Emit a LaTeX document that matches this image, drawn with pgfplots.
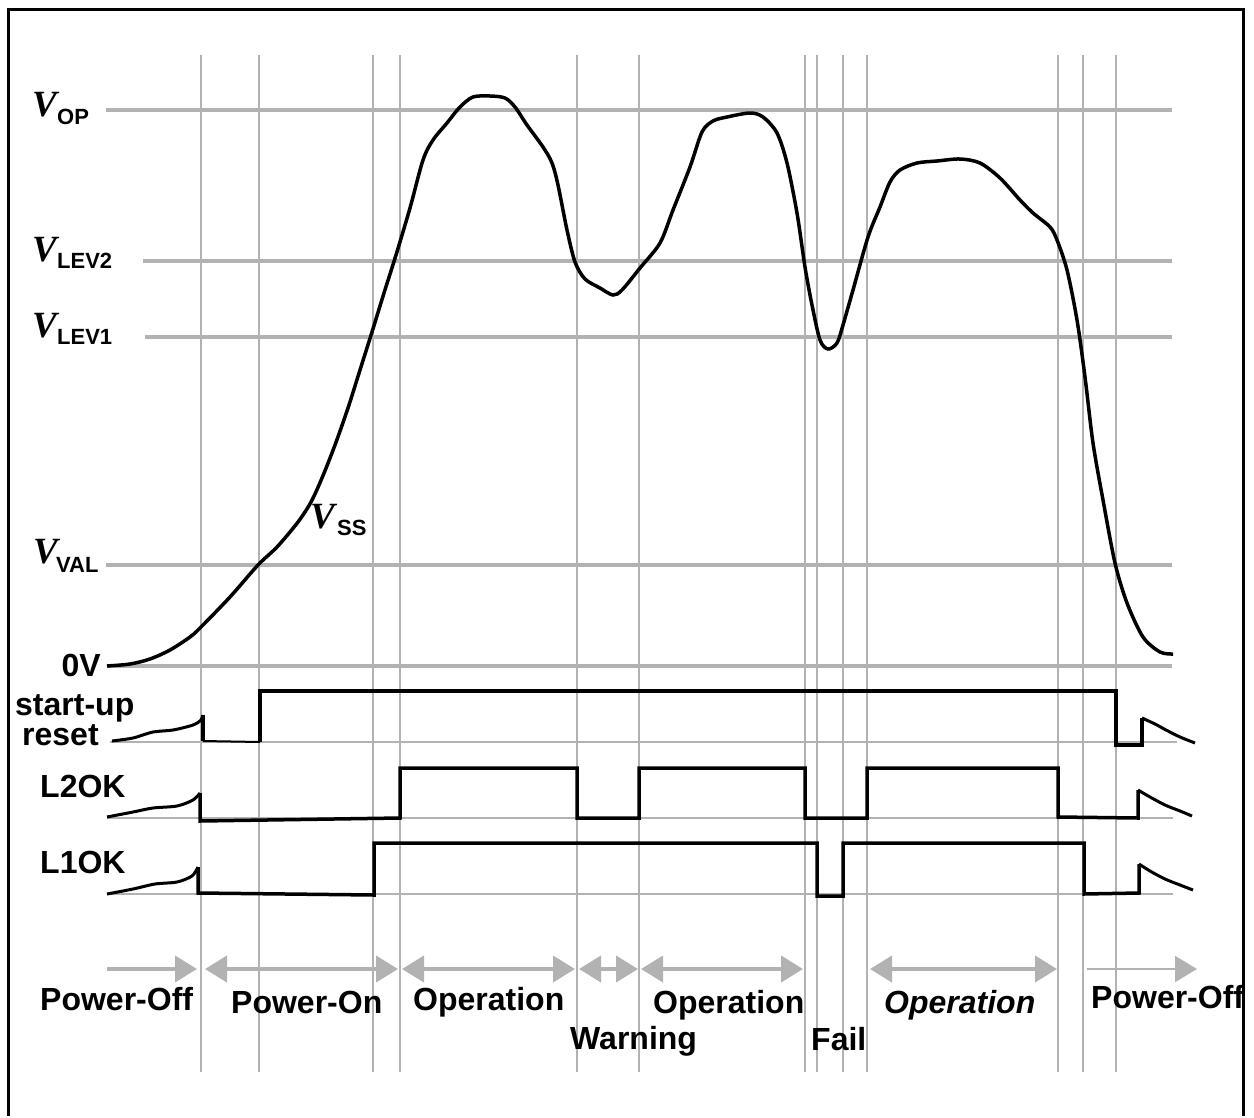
\documentclass[border=0pt]{standalone}
\usepackage{fontspec}
\setmainfont{Liberation Sans}
\newfontfamily\serifbi{Liberation Serif}
\usepackage{pgfplots}
\pgfplotsset{compat=1.18}
\usetikzlibrary{arrows.meta}
\definecolor{lg}{RGB}{178,178,178}
\newcommand{\lab}{\fontsize{32}{36}\selectfont\bfseries}
\newcommand{\Vf}{\serifbi\fontsize{37}{40}\selectfont\bfseries\itshape}
\newcommand{\Sf}{\fontsize{22}{25}\selectfont\bfseries}
\tikzset{ar/.style={>={Triangle[length=22pt,width=26pt]}}}
\begin{document}
\begin{tikzpicture}
\begin{axis}[
  width=1254pt, height=1116pt, scale only axis,
  xmin=0, xmax=1254, ymin=0, ymax=1116, y dir=reverse,
  hide axis, clip=false,
]
\path (axis cs:0,0) rectangle (axis cs:1254,1116);
% frame
\addplot[black, line width=3pt, mark=none] coordinates {(8,1116) (8,9) (1243,9) (1243,1116)};
% vertical grid lines
\pgfplotsinvokeforeach{201,259,373,400,577,639,805,817,843,867,1058,1083,1116}{
  \addplot[lg, line width=2pt, mark=none] coordinates {(#1,55) (#1,1072)};
}
% level lines
\addplot[lg, line width=3.5pt, mark=none] coordinates {(106,110) (1172,110)};
\addplot[lg, line width=3.5pt, mark=none] coordinates {(143,261) (1172,261)};
\addplot[lg, line width=3.5pt, mark=none] coordinates {(145,337) (1172,337)};
\addplot[lg, line width=3.5pt, mark=none] coordinates {(106,565) (1172,565)};
\addplot[lg, line width=3.5pt, mark=none] coordinates {(107,666) (1172,666)};
% signal baselines
\addplot[lg, line width=2pt, mark=none] coordinates {(110,742) (1177,742)};
\addplot[lg, line width=2pt, mark=none] coordinates {(107,818) (1173,818)};
\addplot[lg, line width=2pt, mark=none] coordinates {(107,894) (1173,894)};
% V_SS curve
\addplot[black, line width=3.5pt, mark=none, smooth, tension=0.5] coordinates {
(107,666) (130,664) (150,659) (170,650) (190,637) (201,627) (230,597) (258,565) (277,547) (298,522) (311,502) (322,478) (335,445) (348,408) (360,370) (372,332) (384,293) (396,255) (410,208) (423,160) (433,140) (447,123) (460,107) (473,97) (490,96) (505,98) (515,107) (527,125) (543,147) (552,163) (558,185) (567,230) (575,262) (585,279) (600,288) (613,295) (622,290) (640,268) (660,243) (673,210) (690,167) (702,132) (713,121) (727,117) (750,113) (763,117) (777,133) (787,163) (797,213) (805,267) (812,305) (820,340) (828,349) (837,343) (843,325) (853,290) (868,237) (880,207) (890,182) (900,170) (917,163) (937,161) (960,159) (980,163) (1000,178) (1020,200) (1033,213) (1050,227) (1057,240) (1067,270) (1077,320) (1085,377) (1093,443) (1103,500) (1115,563) (1127,603) (1143,637) (1160,652) (1173,654)
};
% start-up reset
\addplot[black, line width=3pt, mark=none, smooth, tension=0.5] coordinates {(112,741) (133,738) (153,732) (173,730) (193,725) (201,720) (203,715)};
\addplot[black, line width=3.5pt, mark=none] coordinates {(203,715) (203,741)};
\addplot[black, line width=2pt, mark=none] coordinates {(203,741) (260,742)};
\addplot[black, line width=3.5pt, mark=none] coordinates {(260,742) (260,691) (1116,691) (1116,745) (1142,745) (1142,718)};
\addplot[black, line width=3pt, mark=none, smooth, tension=0.5] coordinates {(1142,718) (1155,724) (1166,730) (1180,737) (1195,743)};
% L2OK
\addplot[black, line width=3pt, mark=none, smooth, tension=0.5] coordinates {(107,817) (133,812) (153,808) (177,806) (193,800) (200,793)};
\addplot[black, line width=3.5pt, mark=none] coordinates {(200,793) (200,821) (400,818) (400,768) (577,768) (577,818) (639,818) (639,768) (805,768) (805,818) (867,818) (867,768) (1058,768) (1058,817) (1138,818) (1138,790)};
\addplot[black, line width=3pt, mark=none, smooth, tension=0.5] coordinates {(1138,790) (1150,797) (1165,805) (1180,811) (1192,816)};
% L1OK
\addplot[black, line width=3pt, mark=none, smooth, tension=0.5] coordinates {(107,894) (133,889) (155,884) (177,882) (192,876) (198,867)};
\addplot[black, line width=3.5pt, mark=none] coordinates {(198,867) (198,893) (374,895) (374,843) (817,843) (817,896) (843,896) (843,843) (1084,843) (1084,894) (1139,893) (1139,864)};
\addplot[black, line width=3pt, mark=none, smooth, tension=0.5] coordinates {(1139,864) (1150,871) (1165,879) (1180,885) (1193,890)};
% phase arrows
\addplot[lg, line width=4pt, mark=none, ar, ->] coordinates {(107,969) (197,969)};
\addplot[lg, line width=4pt, mark=none, ar, <->] coordinates {(205,969) (398,969)};
\addplot[lg, line width=4pt, mark=none, ar, <->] coordinates {(402,969) (575,969)};
\addplot[lg, line width=4pt, mark=none, ar, <->] coordinates {(579,969) (638,969)};
\addplot[lg, line width=4pt, mark=none, ar, <->] coordinates {(641,969) (803,969)};
\addplot[lg, line width=4pt, mark=none, ar, <->] coordinates {(870,969) (1057,969)};
\addplot[lg, line width=2pt, mark=none, ar, ->] coordinates {(1087,969) (1197,969)};
% labels
\node[anchor=base west, inner sep=0pt] at (axis cs:32,116) {\Vf V};
\node[anchor=base west, inner sep=0pt] at (axis cs:57,124) {\Sf OP};
\node[anchor=base west, inner sep=0pt] at (axis cs:32,261) {\Vf V};
\node[anchor=base west, inner sep=0pt] at (axis cs:57,268) {\Sf LEV2};
\node[anchor=base west, inner sep=0pt] at (axis cs:32,337) {\Vf V};
\node[anchor=base west, inner sep=0pt] at (axis cs:57,344) {\Sf LEV1};
\node[anchor=base west, inner sep=0pt] at (axis cs:33,563) {\Vf V};
\node[anchor=base west, inner sep=0pt] at (axis cs:56,572) {\Sf VAL};
\node[anchor=base west, inner sep=0pt] at (axis cs:310,528) {\Vf V};
\node[anchor=base west, inner sep=0pt] at (axis cs:337,535) {\Sf SS};
\node[anchor=base east, inner sep=0pt] at (axis cs:101,676) {\lab 0V};
\node[anchor=base west, inner sep=0pt] at (axis cs:15,715) {\lab start-up};
\node[anchor=base west, inner sep=0pt] at (axis cs:22,745) {\lab reset};
\node[anchor=base west, inner sep=0pt] at (axis cs:40,797) {\lab L2OK};
\node[anchor=base west, inner sep=0pt] at (axis cs:40,873) {\lab L1OK};
\node[anchor=base west, inner sep=0pt] at (axis cs:40,1010) {\lab Power-Off};
\node[anchor=base west, inner sep=0pt] at (axis cs:231,1013) {\lab Power-On};
\node[anchor=base west, inner sep=0pt] at (axis cs:413,1010) {\lab Operation};
\node[anchor=base west, inner sep=0pt] at (axis cs:570,1049) {\lab Warning};
\node[anchor=base west, inner sep=0pt] at (axis cs:653,1013) {\lab Operation};
\node[anchor=base west, inner sep=0pt] at (axis cs:811,1050) {\lab Fail};
\node[anchor=base west, inner sep=0pt] at (axis cs:884,1013) {\lab\itshape Operation};
\node[anchor=base west, inner sep=0pt] at (axis cs:1091,1008) {\lab Power-Off};
\end{axis}
\end{tikzpicture}
\end{document}
